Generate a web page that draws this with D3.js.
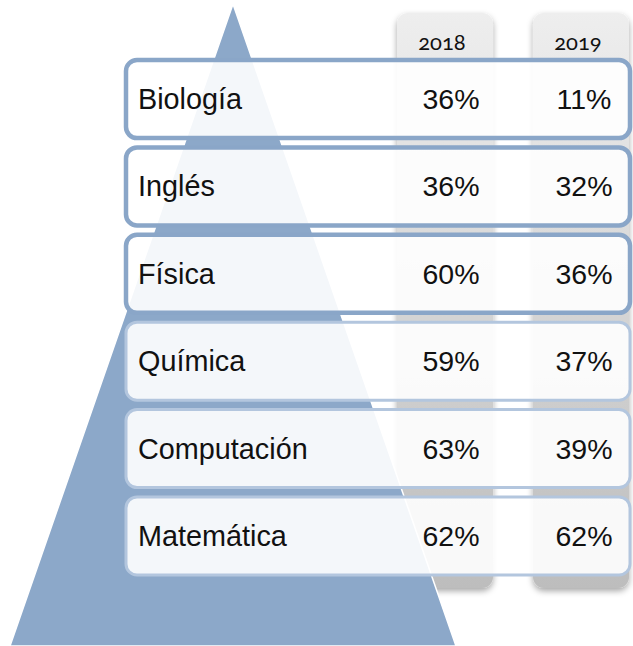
<!DOCTYPE html>
<html>
<head>
<meta charset="utf-8">
<script src="https://cdn.jsdelivr.net/npm/d3@7/dist/d3.min.js"></script>
<style>
  html, body { margin: 0; padding: 0; background: #ffffff; }
  svg { display: block; }
</style>
</head>
<body>
<svg id="chart" width="633" height="646"></svg>
<script>
// ---- data ----
const categories = ["Biología", "Inglés", "Física", "Química", "Computación", "Matemática"];
const years = ["2018", "2019"];
const values2018 = [36, 36, 60, 59, 63, 62];
const values2019 = [11, 32, 36, 37, 39, 62];

const W = 633, H = 646;
const svg = d3.select("#chart");
const defs = svg.append("defs");

const grad = defs.append("linearGradient")
  .attr("id", "colGrad").attr("x1", 0).attr("y1", 0).attr("x2", 0).attr("y2", 1);
grad.append("stop").attr("offset", "0%").attr("stop-color", "#eeeeee");
grad.append("stop").attr("offset", "100%").attr("stop-color", "#bdbdbd");

const shadow = defs.append("filter").attr("id", "shadow")
  .attr("x", "-20%").attr("y", "-5%").attr("width", "140%").attr("height", "115%");
shadow.append("feDropShadow").attr("dx", 0).attr("dy", 3).attr("stdDeviation", 3)
  .attr("flood-color", "#000").attr("flood-opacity", 0.35);

// scales
const y = d3.scaleBand().domain(categories).range([60, 575]).paddingInner(0.107);
const x = d3.scaleBand().domain(years).range([397, 629]).paddingInner(0.294);

// ---- year columns ----
const colTop = 13, colBottom = 588;
svg.append("g").selectAll("rect").data(years).join("rect")
  .attr("x", d => x(d)).attr("y", colTop)
  .attr("width", x.bandwidth()).attr("height", colBottom - colTop)
  .attr("rx", 11).attr("ry", 11)
  .attr("fill", "url(#colGrad)")
  .attr("filter", "url(#shadow)");

svg.append("g").selectAll("text").data(years).join("text")
  .attr("x", d => x(d) + x.bandwidth() / 2 - 3)
  .attr("y", 50)
  .attr("text-anchor", "middle")
  .attr("font-family", "Lato, 'Open Sans', sans-serif")
  .attr("font-size", 22)
  .style("font-variant-numeric", "oldstyle-nums")
  .attr("fill", "#111")
  .text(d => d);

// ---- pyramid ----
const apex = [233, 4], baseL = [10, 646], baseR = [456, 646];
svg.append("path")
  .attr("d", d3.line()([apex, baseR, baseL]) + "Z")
  .attr("fill", "#8ca8c9")
  .attr("stroke", "#ffffff").attr("stroke-width", 1.5);

// ---- rows ----
const boxX = 124, boxW = 632 - 124;
const rows = svg.append("g").selectAll("g").data(categories).join("g");

rows.append("rect")
  .attr("x", boxX + 2)
  .attr("y", d => y(d))
  .attr("width", boxW - 4)
  .attr("height", y.bandwidth())
  .attr("rx", 11).attr("ry", 11)
  .attr("fill", "#ffffff").attr("fill-opacity", 0.9)
  .attr("stroke", (d, i) => i < 3 ? "#8aa6c8" : "#b3c6de")
  .attr("stroke-width", (d, i) => i < 3 ? 4.5 : 3);

const fontMain = "'Liberation Sans', Arial, sans-serif";
rows.append("text")
  .attr("x", 138)
  .attr("y", d => y(d) + y.bandwidth() / 2 + 10)
  .attr("font-family", fontMain).attr("font-size", 28.8)
  .attr("fill", "#111")
  .text(d => d);

rows.append("text")
  .attr("x", x("2018") + x.bandwidth() / 2 + 6)
  .attr("y", d => y(d) + y.bandwidth() / 2 + 10)
  .attr("text-anchor", "middle")
  .attr("font-family", fontMain).attr("font-size", 28.5)
  .attr("fill", "#111")
  .text((d, i) => values2018[i] + "%");

rows.append("text")
  .attr("x", x("2019") + x.bandwidth() / 2 + 3)
  .attr("y", d => y(d) + y.bandwidth() / 2 + 10)
  .attr("text-anchor", "middle")
  .attr("font-family", fontMain).attr("font-size", 28.5)
  .attr("fill", "#111")
  .text((d, i) => values2019[i] + "%");
</script>
</body>
</html>
